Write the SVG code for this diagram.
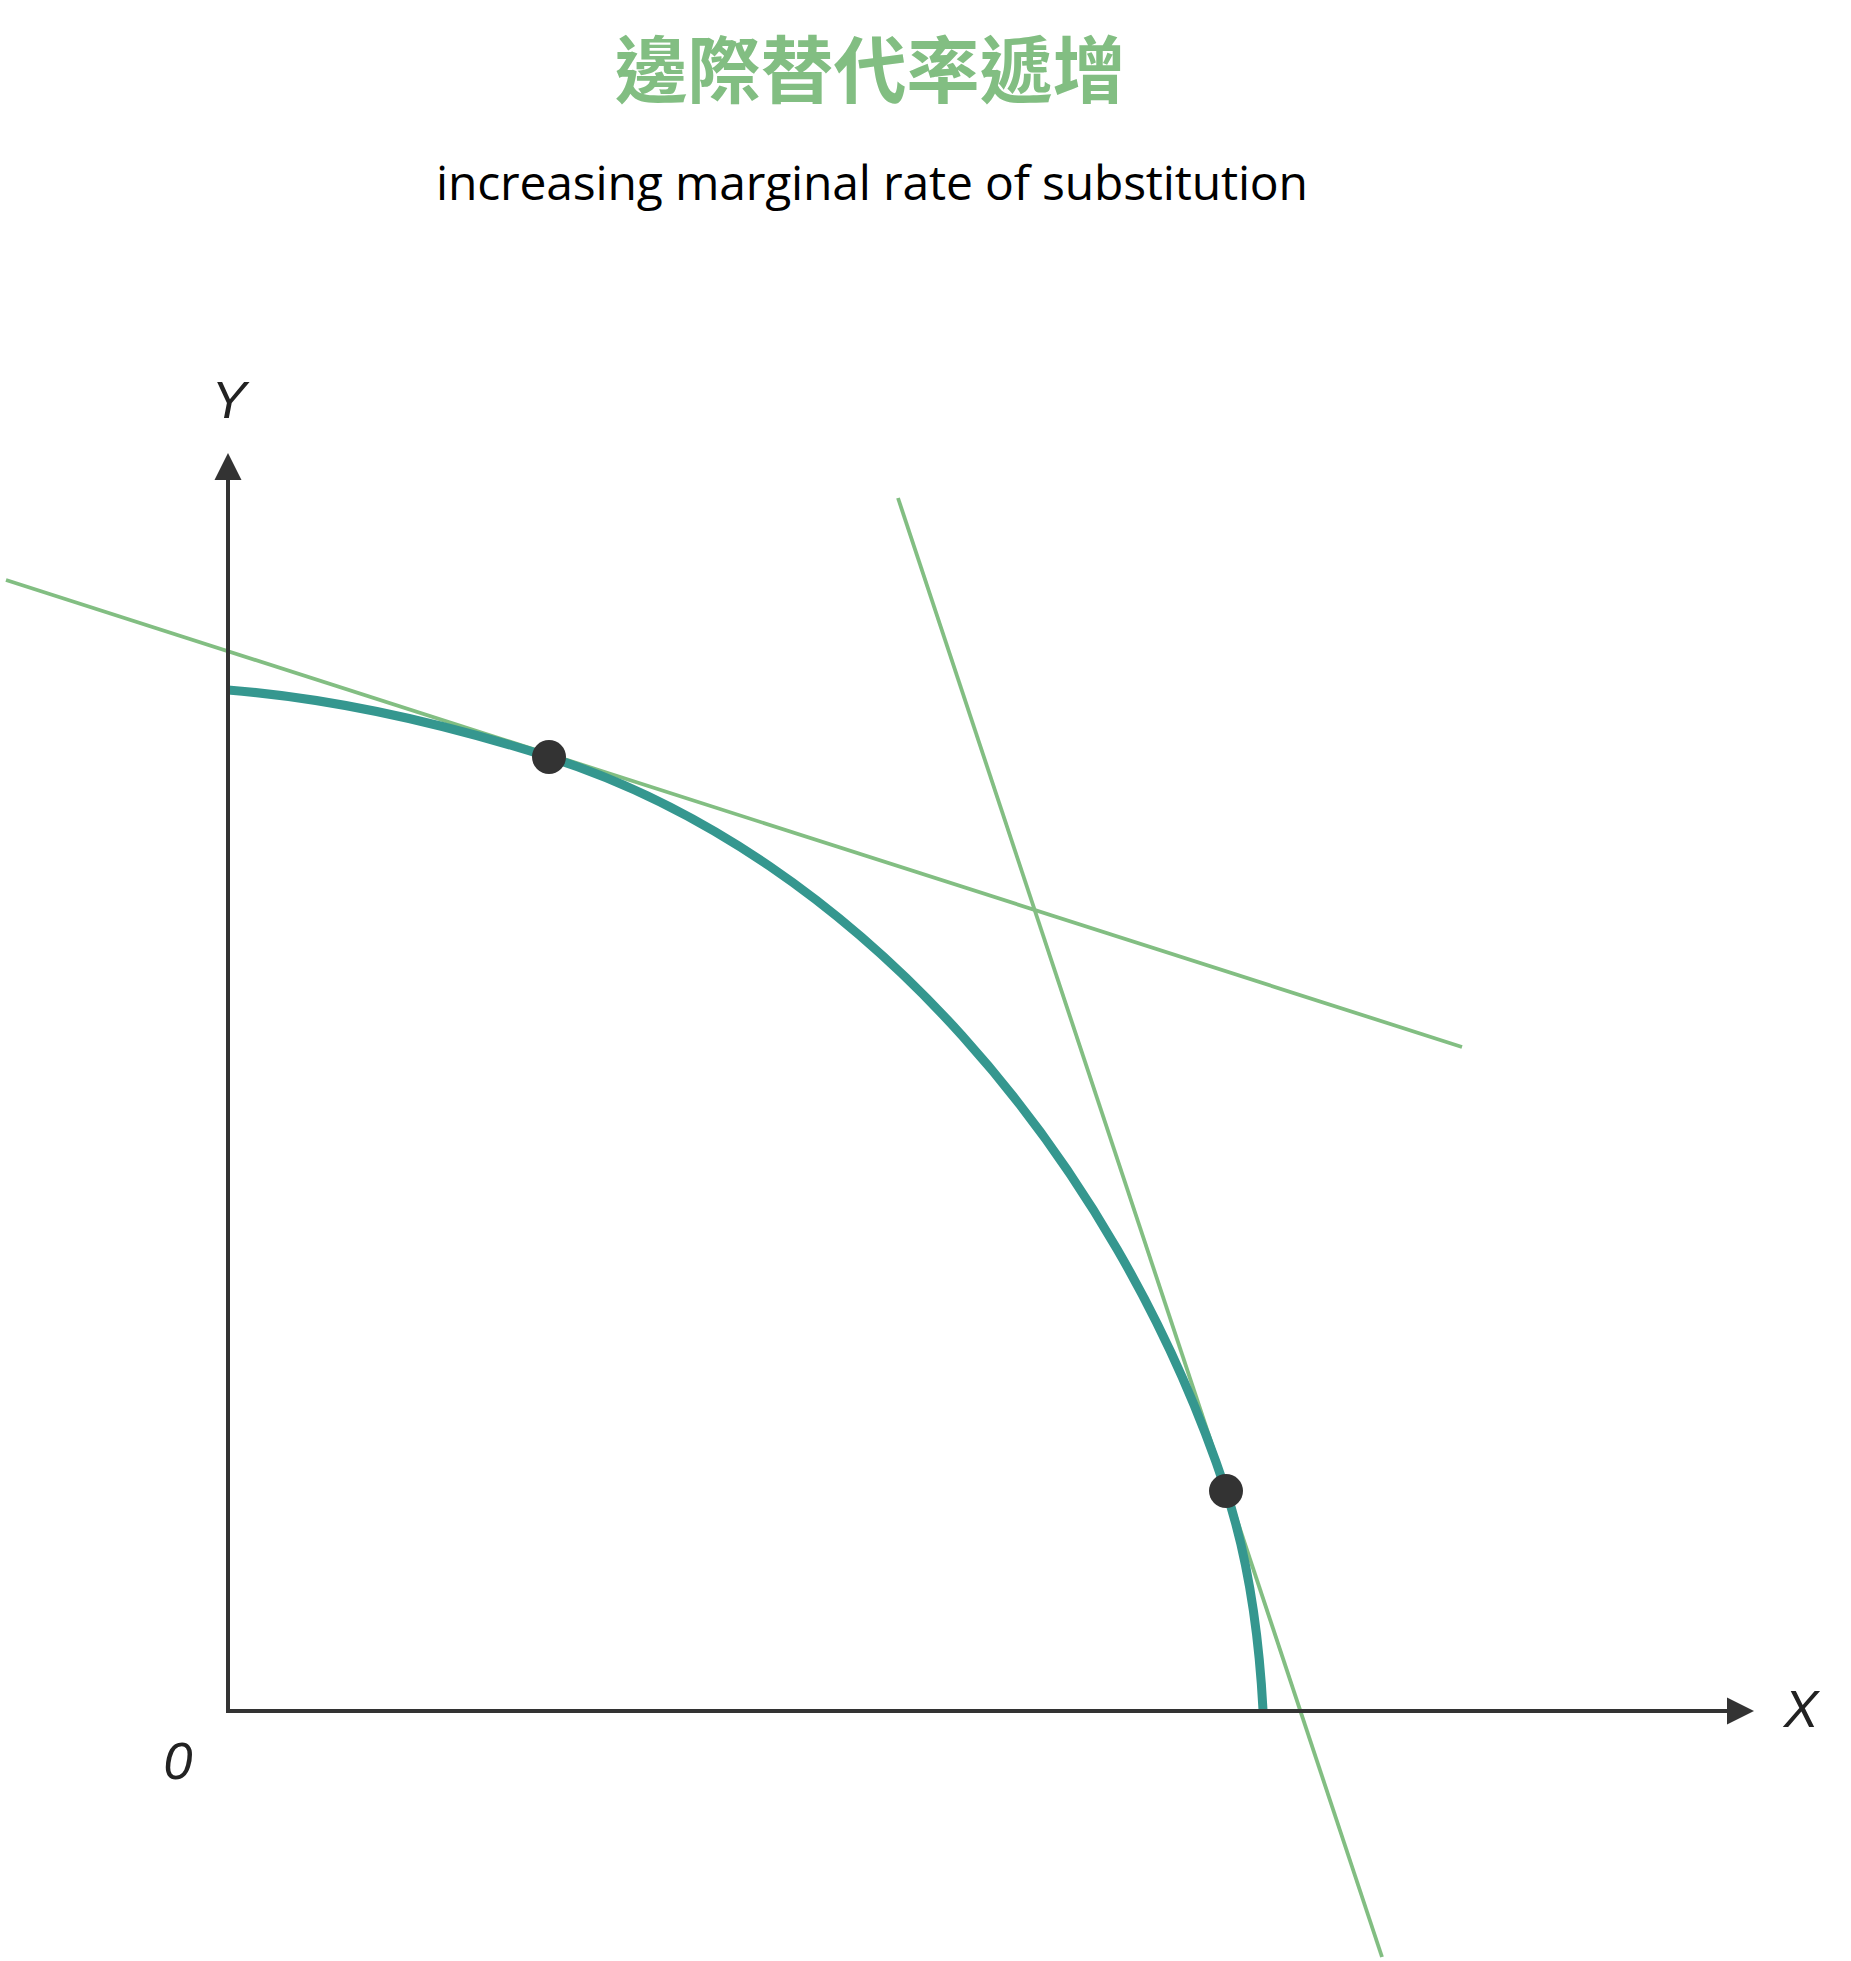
<svg xmlns="http://www.w3.org/2000/svg" width="1851" height="1961" viewBox="0 0 1851 1961">
  <style>
    .title { font-family: "Noto Sans CJK TC", "Noto Sans CJK SC", sans-serif; font-weight: bold; font-size: 73px; fill: #82be82; text-anchor: middle; }
    .sub { font-family: "Open Sans", "Liberation Sans", sans-serif; font-size: 48px; fill: #000000; text-anchor: middle; }
    .axlabel { font-family: "Liberation Sans", Arial, sans-serif; font-style: italic; font-size: 52px; fill: #222222; text-anchor: middle; }
    .axis { stroke: #333333; stroke-width: 4; fill: none; }
    .arrowhead { fill: #333333; }
    .tangent { stroke: #82be82; stroke-width: 3.8; fill: none; }
    .curve { stroke: #35978f; stroke-width: 9; fill: none; }
    .pt { fill: #333333; }
  </style>
  <rect x="0" y="0" width="1851" height="1961" fill="#ffffff"/>

  <g id="title">
    <text class="title" x="870" y="97">邊際替代率遞增</text>
  </g>
  <g id="subtitle">
    <text class="sub" x="872" y="200" textLength="872" lengthAdjust="spacing">increasing marginal rate of substitution</text>
  </g>

  <g id="connectors">
    <line id="tangent-1" class="tangent" x1="6" y1="580" x2="1462" y2="1047"/>
    <line id="tangent-2" class="tangent" x1="898" y1="498" x2="1382" y2="1957"/>
    <path id="curve" class="curve" d="M228,690 C336.6,698.7 445.2,723.9 549,757 C858.6,855.8 1115.5,1156.8 1226,1491 C1249.2,1561.3 1259.1,1636.1 1263,1710"/>
  </g>

  <g id="axes">
    <line id="y-axis" class="axis" x1="228" y1="1713" x2="228" y2="476"/>
    <polygon class="arrowhead" points="228,453 214.5,480 241.5,480"/>
    <line id="x-axis" class="axis" x1="226" y1="1711" x2="1730" y2="1711"/>
    <polygon class="arrowhead" points="1754,1711 1727,1697.5 1727,1724.5"/>
  </g>

  <g id="label-y"><text class="axlabel" x="229" y="418">Y</text></g>
  <g id="label-x"><text class="axlabel" x="1801" y="1727">X</text></g>
  <g id="label-origin"><text class="axlabel" x="178" y="1779">0</text></g>

  <g id="point-1"><circle class="pt" cx="549" cy="757" r="17"/></g>
  <g id="point-2"><circle class="pt" cx="1226" cy="1491" r="17"/></g>
</svg>
